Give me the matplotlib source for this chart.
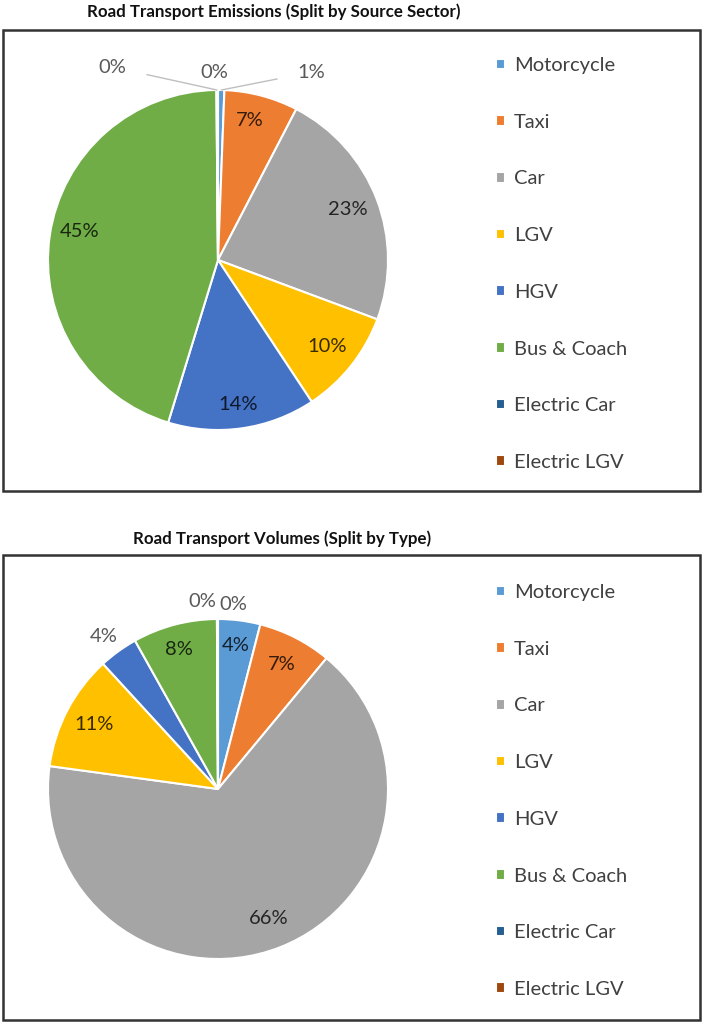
import numpy as np
import matplotlib
matplotlib.use("Agg")
import matplotlib.pyplot as plt
from matplotlib.patches import Rectangle

plt.rcParams['font.family'] = ['Lato', 'DejaVu Sans']

categories = ['Motorcycle', 'Taxi', 'Car', 'LGV', 'HGV', 'Bus & Coach',
              'Electric Car', 'Electric LGV']
colors = ['#5B9BD5', '#ED7D31', '#A5A5A5', '#FFC000', '#4472C4', '#70AD47',
          '#255E91', '#9E480E']

# emissions share (%) by source sector
emissions = [0.6, 7.0, 23.0, 10.0, 14.0, 45.0, 0.1, 0.05]
# vehicle volumes share (%) by type
volumes = [4.0, 7.0, 66.0, 11.0, 3.7, 8.0, 0.05, 0.05]

title_emis = 'Road Transport Emissions (Split by Source Sector)'
title_vol = 'Road Transport Volumes (Split by Type)'

W, H = 704, 1023
fig = plt.figure(figsize=(W / 100, H / 100), dpi=100)

LBL = 14.5


def px_box(cx, cy, r):
    return [(cx - r) / W, (H - cy - r) / H, 2 * r / W, 2 * r / H]


def draw_pie(ax, values, outside, leaders, nudge):
    wedges, _ = ax.pie(values, colors=colors, startangle=90, counterclock=False,
                       wedgeprops=dict(edgecolor='white', linewidth=1.5))
    total = sum(values)
    for w, v, name in zip(wedges, values, categories):
        pct = '%d%%' % round(100 * v / total)
        ang = np.deg2rad((w.theta1 + w.theta2) / 2)
        if name in outside:
            tx, ty = outside[name]
            ex, ey = np.cos(ang), np.sin(ang)
            if name in leaders:
                ax.annotate(pct, xy=(ex, ey), xytext=(tx, ty), ha='center', va='center',
                            fontsize=LBL, color='#595959',
                            arrowprops=dict(arrowstyle='-', color='#BFBFBF', lw=1,
                                            shrinkA=13, shrinkB=0))
            else:
                ax.text(tx, ty, pct, ha='center', va='center', fontsize=LBL,
                        color='#595959')
        else:
            dx, dy = nudge.get(name, (0, 0))
            ax.text(0.82 * np.cos(ang) + dx, 0.82 * np.sin(ang) + dy, pct,
                    ha='center', va='center', fontsize=LBL, color='black', alpha=0.78)
    ax.set_xlim(-1, 1)
    ax.set_ylim(-1, 1)
    ax.axis('off')
    return wedges


ax1 = fig.add_axes(px_box(218, 260, 170))
w1 = draw_pie(ax1, emissions,
              {'Electric Car': (-0.62, 1.135), 'Electric LGV': (-0.02, 1.10),
               'Motorcycle': (0.55, 1.105)},
              ['Electric Car', 'Motorcycle'],
              {'Bus & Coach': (0.0, 0.05), 'HGV': (0.0, -0.04), 'Taxi': (-0.02, 0.03)})

ax2 = fig.add_axes(px_box(218, 789, 170))
w2 = draw_pie(ax2, volumes,
              {'Electric Car': (-0.094, 1.105), 'Electric LGV': (0.088, 1.088),
               'HGV': (-0.675, 0.90)},
              [],
              {'Bus & Coach': (-0.02, 0.03), 'Motorcycle': (0, 0.03)})

# frames and titles
for top, bottom, title, tx, ty in [(30, 491, title_emis, 274, 12),
                                   (555, 1020, title_vol, 282, 539)]:
    fig.add_artist(Rectangle((3 / W, (H - bottom) / H), 697 / W, (bottom - top) / H,
                             transform=fig.transFigure, fill=False,
                             edgecolor='#333333', linewidth=1.8))
    fig.text(tx / W, 1 - ty / H, title, ha='center', va='center', fontsize=12.2,
             fontweight='bold', color='#111111')

for wedges, cy in [(w1, 264), (w2, 791)]:
    fig.legend(wedges, categories, loc='center left',
               bbox_to_anchor=(478 / W, 1 - cy / H), frameon=False,
               fontsize=LBL, labelcolor='#404040', handlelength=0.42,
               handleheight=0.42, handletextpad=0.45, labelspacing=1.97)

fig.savefig('out.png', dpi=100)
